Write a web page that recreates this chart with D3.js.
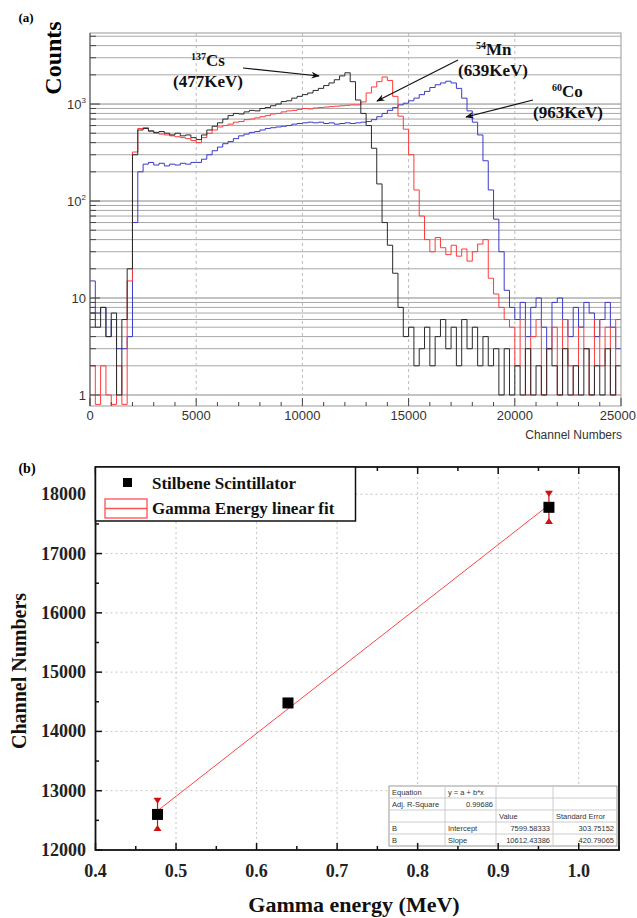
<!DOCTYPE html>
<html>
<head>
<meta charset="utf-8">
<script src="https://cdn.jsdelivr.net/npm/d3@7"></script>
<style>
body{margin:0;background:#fff}
svg{display:block}
</style>
</head>
<body>
<svg id="main_svg" width="637" height="918"></svg>
<script>
// ---- panel (a): spectra, one count per 250 channel bin ----
let bin_width = 250
let cs137 = [7,5,8,4,7,1,6,20,300,540, 560,530,510,520,500,480,500,470,480,450,
    430,480,540,590,640,700,760,800,790,830, 860,850,900,920,960,1000,1060,1080,1150,1200,
    1250,1300,1380,1450,1550,1650,1780,1950,2100,1700, 1100,800,600,350,150,60,35,18,8,4,
    5,2,3,5,2,4,6,3,5,2, 6,3,5,2,4,2,3,1,3,1,
    2,1,3,1,2,1,3,2,1,3, 1,2,1,3,1,2,1,3,1,2]
let mn54 = [2,0.8,2,1,0.8,2,0.8,15,320,560, 570,520,500,490,480,470,460,450,440,420,
    400,450,500,540,580,600,620,650,660,690, 700,720,740,760,790,800,830,850,860,880,
    900,890,910,920,930,940,950,960,970,980, 980,1050,1300,1500,1700,1900,1750,1200,750,550,
    300,130,70,40,30,42,33,28,35,27, 32,24,30,36,40,16,11,8,6,5,
    2,6,1,4,6,1,3,5,1,6, 2,1,5,3,1,6,2,5,1,6]
let co60 = [15,7,8,4,6,3,3,4,60,200, 240,250,235,245,230,240,235,245,240,250,
    250,270,300,330,360,390,410,440,470,490, 510,520,540,560,570,580,590,600,620,630,
    640,650,640,650,630,640,620,630,640,630, 640,650,660,690,740,800,860,920,980,1020,
    1080,1150,1250,1350,1480,1580,1650,1720,1650,1450, 1150,850,650,480,260,130,65,30,12,8,
    6,9,4,8,10,5,3,9,10,6, 4,8,5,9,7,4,6,9,5,3]
let spectra_colors = ["#3a3ac8", "#ff3a3a", "#2a2a2a"]
let count_ticks = [1, 10, 100, 1000]
let count_labels = ["1", "10", "10|2", "10|3"]
let channel_ticks = [0, 5000, 10000, 15000, 20000, 25000]

// ---- panel (b): compton edge vs channel ----
let energy = [0.477, 0.639, 0.963]
let channel = [12600, 14480, 17780]
let channel_err = [280, 80, 280]
let fit_intercept = 7599.58333
let fit_slope = 10612.43386
let energy_ticks = [0.4, 0.5, 0.6, 0.7, 0.8, 0.9, 1.0]
let channel_num_ticks = [12000, 13000, 14000, 15000, 16000, 17000, 18000]
let fit_table = [
    ["Equation", "y = a + b*x", "", ""],
    ["Adj. R-Square", "0.99686", "", ""],
    ["", "", "Value", "Standard Error"],
    ["B", "Intercept", "7599.58333", "303.75152"],
    ["B", "Slope", "10612.43386", "420.79065"]
]

let serif = "'Liberation Serif','Times New Roman',serif"
let sans = "'Liberation Sans',Arial,sans-serif"
let svg = d3.select("#main_svg")

svg.append("defs").append("marker")
    .attr("id", "arrow")
    .attr("viewBox", "0 0 10 10")
    .attr("refX", 9).attr("refY", 5)
    .attr("markerWidth", 7).attr("markerHeight", 7)
    .attr("orient", "auto")
    .append("path")
    .attr("d", "M0,1 L10,5 L0,9 L3,5 Z")
    .attr("fill", "#111")

// ================= panel (a) =================
let x1 = d3.scaleLinear().domain([0, 25000]).range([90, 621])
let y1 = d3.scaleLog().domain([0.77, 5400]).range([406, 33])

svg.append("clipPath").attr("id", "clip_a")
    .append("rect").attr("x", 90).attr("y", 33).attr("width", 531).attr("height", 373)

// log gridlines, every minor value
let log_grid = []
for (let d = 1; d <= 1000; d *= 10) {
    for (let k = 1; k <= 9; k++) {
        if (d * k < 5400) log_grid.push(d * k)
    }
}
svg.append("g").selectAll("line").data(log_grid).join("line")
    .attr("x1", 90).attr("x2", 621)
    .attr("y1", d => y1(d)).attr("y2", d => y1(d))
    .attr("stroke", d => count_ticks.includes(d) ? "#888" : "#a8a8a8")
    .attr("stroke-width", 1)

svg.append("g").selectAll("line").data(channel_ticks.slice(1, -1)).join("line")
    .attr("x1", d => x1(d)).attr("x2", d => x1(d))
    .attr("y1", 33).attr("y2", 406)
    .attr("stroke", "#bbb").attr("stroke-dasharray", "3,3")

function step_points(vals) {
    let pts = vals.map((v, i) => [i * bin_width, v])
    pts.push([vals.length * bin_width, vals[vals.length - 1]])
    return pts
}
let step_line = d3.line()
    .x(d => x1(d[0]))
    .y(d => y1(Math.max(d[1], 0.77)))
    .curve(d3.curveStepAfter)

let spectra = [co60, mn54, cs137]
svg.append("g").attr("clip-path", "url(#clip_a)")
    .selectAll("path").data(spectra).join("path")
    .attr("d", d => step_line(step_points(d)))
    .attr("fill", "none")
    .attr("stroke", (d, i) => spectra_colors[i])
    .attr("stroke-width", 1)

// frame
svg.append("rect").attr("x", 90).attr("y", 33).attr("width", 531).attr("height", 373)
    .attr("fill", "none").attr("stroke", "#999")
svg.append("line").attr("x1", 90).attr("x2", 90).attr("y1", 33).attr("y2", 406)
    .attr("stroke", "#555")

// y ticks (inward)
svg.append("g").selectAll("line").data(log_grid).join("line")
    .attr("x1", 90).attr("x2", d => count_ticks.includes(d) ? 100 : 96)
    .attr("y1", d => y1(d)).attr("y2", d => y1(d))
    .attr("stroke", "#444")

let ylab = svg.append("g").selectAll("text").data(count_ticks).join("text")
    .attr("x", 86).attr("y", d => y1(d) + 5)
    .attr("text-anchor", "end")
    .attr("font-family", sans).attr("font-size", 13).attr("fill", "#333")
ylab.each(function (d, i) {
    let parts = count_labels[i].split("|")
    let t = d3.select(this)
    t.append("tspan").text(parts[0])
    if (parts[1]) t.append("tspan").attr("font-size", 8).attr("dy", -6).text(parts[1])
})

// x ticks (inward) every 1000
svg.append("g").selectAll("line").data(d3.range(0, 25001, 1000)).join("line")
    .attr("x1", d => x1(d)).attr("x2", d => x1(d))
    .attr("y1", 406).attr("y2", d => d % 5000 == 0 ? 398 : 402)
    .attr("stroke", "#444")
svg.append("g").selectAll("text").data(channel_ticks).join("text")
    .attr("x", d => d == 25000 ? 636 : x1(d)).attr("y", 420)
    .attr("text-anchor", d => d == 25000 ? "end" : "middle")
    .attr("font-family", sans).attr("font-size", 13).attr("fill", "#333")
    .text(d => d)
svg.append("text").attr("x", 622).attr("y", 439).attr("text-anchor", "end")
    .attr("font-family", sans).attr("font-size", 12).attr("fill", "#333")
    .text("Channel Numbers")

svg.append("text").attr("transform", "translate(61,58) rotate(-90)")
    .attr("text-anchor", "middle")
    .attr("font-family", serif).attr("font-size", 24).attr("font-weight", "bold")
    .text("Counts")
svg.append("text").attr("x", 26).attr("y", 22).attr("text-anchor", "middle")
    .attr("font-family", serif).attr("font-size", 13).attr("font-weight", "bold")
    .text("(a)")

// isotope labels and arrows
let isotopes = [
    {mass: "137", name: "Cs", edge: "(477KeV)", tx: 191, ty: 66, ex: 173, ey: 87, from: [243, 68], to: [319, 76]},
    {mass: "54", name: "Mn", edge: "(639KeV)", tx: 476, ty: 55, ex: 458, ey: 76, from: [458, 60], to: [377, 101]},
    {mass: "60", name: "Co", edge: "(963KeV)", tx: 552, ty: 97, ex: 533, ey: 118, from: [533, 100], to: [466, 117]}
]
isotopes.forEach(function (iso) {
    let t = svg.append("text").attr("x", iso.tx).attr("y", iso.ty)
        .attr("font-family", serif).attr("font-weight", "bold").attr("fill", "#111")
    t.append("tspan").attr("font-size", 10).attr("dy", -6).text(iso.mass)
    t.append("tspan").attr("font-size", 17).attr("dy", 6).text(iso.name)
    svg.append("text").attr("x", iso.ex).attr("y", iso.ey)
        .attr("font-family", serif).attr("font-weight", "bold").attr("font-size", 17).attr("fill", "#111")
        .text(iso.edge)
    svg.append("line")
        .attr("x1", iso.from[0]).attr("y1", iso.from[1])
        .attr("x2", iso.to[0]).attr("y2", iso.to[1])
        .attr("stroke", "#111").attr("stroke-width", 1.2)
        .attr("marker-end", "url(#arrow)")
})

// ================= panel (b) =================
let x2 = d3.scaleLinear().domain([0.4, 1.05]).range([95.5, 619])
let y2 = d3.scaleLinear().domain([12000, 18460]).range([850, 467])

svg.append("g").selectAll("line").data(energy_ticks.slice(1)).join("line")
    .attr("x1", d => x2(d)).attr("x2", d => x2(d))
    .attr("y1", 467).attr("y2", 850)
    .attr("stroke", "#c4c4c4").attr("stroke-dasharray", "2,3")
svg.append("g").selectAll("line").data(channel_num_ticks.slice(1)).join("line")
    .attr("x1", 95.5).attr("x2", 619)
    .attr("y1", d => y2(d)).attr("y2", d => y2(d))
    .attr("stroke", "#c4c4c4").attr("stroke-dasharray", "2,3")

// fit line
svg.append("line")
    .attr("x1", x2(energy[0])).attr("y1", y2(fit_intercept + fit_slope * energy[0]))
    .attr("x2", x2(energy[2])).attr("y2", y2(fit_intercept + fit_slope * energy[2]))
    .attr("stroke", "#ff4545").attr("stroke-width", 1)

// error bars with triangle caps
let pts = energy.map((e, i) => ({e: e, c: channel[i], err: channel_err[i]}))
let eb = svg.append("g").selectAll("g").data(pts).join("g")
eb.append("line")
    .attr("x1", d => x2(d.e)).attr("x2", d => x2(d.e))
    .attr("y1", d => y2(d.c + d.err)).attr("y2", d => y2(d.c - d.err))
    .attr("stroke", "#d01010").attr("stroke-width", 1.2)
eb.append("path")
    .attr("d", function (d) {
        let x = x2(d.e), t = y2(d.c + d.err), b = y2(d.c - d.err)
        return "M" + (x - 4) + "," + t + "L" + (x + 4) + "," + t + "L" + x + "," + (t + 6) + "Z" +
            "M" + (x - 4) + "," + b + "L" + (x + 4) + "," + b + "L" + x + "," + (b - 6) + "Z"
    })
    .attr("fill", "#d01010")
svg.append("g").selectAll("rect").data(pts).join("rect")
    .attr("x", d => x2(d.e) - 5.5).attr("y", d => y2(d.c) - 5.5)
    .attr("width", 11).attr("height", 11)
    .attr("fill", "#000")

// stats table
let col_x = [389, 445, 496, 553, 617]
let row_y0 = 786, row_h = 12
let table = svg.append("g")
table.append("rect").attr("x", col_x[0]).attr("y", row_y0)
    .attr("width", col_x[4] - col_x[0]).attr("height", row_h * fit_table.length)
    .attr("fill", "#fff").attr("stroke", "#999")
for (let r = 1; r < fit_table.length; r++) {
    table.append("line").attr("x1", col_x[0]).attr("x2", col_x[4])
        .attr("y1", row_y0 + r * row_h).attr("y2", row_y0 + r * row_h)
        .attr("stroke", "#ccc")
}
for (let c = 1; c < 4; c++) {
    table.append("line").attr("x1", col_x[c]).attr("x2", col_x[c])
        .attr("y1", row_y0).attr("y2", row_y0 + row_h * fit_table.length)
        .attr("stroke", "#ccc")
}
fit_table.forEach(function (row, r) {
    row.forEach(function (cell, c) {
        let numeric = /^[0-9.]+$/.test(cell)
        table.append("text")
            .attr("x", numeric ? col_x[c + 1] - 3 : col_x[c] + 3)
            .attr("y", row_y0 + r * row_h + 9)
            .attr("text-anchor", numeric ? "end" : "start")
            .attr("font-family", sans).attr("font-size", 7.5).attr("fill", "#333")
            .text(cell)
    })
})

// frame and ticks
svg.append("rect").attr("x", 95.5).attr("y", 467).attr("width", 523.5).attr("height", 383)
    .attr("fill", "none").attr("stroke", "#111").attr("stroke-width", 1.8)

let minor_e = d3.range(0.45, 1.05, 0.1)
svg.append("g").selectAll("line").data(energy_ticks.concat(minor_e)).join("line")
    .attr("x1", d => x2(d)).attr("x2", d => x2(d))
    .attr("y1", 850).attr("y2", (d, i) => i < energy_ticks.length ? 843 : 846)
    .attr("stroke", "#111").attr("stroke-width", 1.5)
svg.append("g").selectAll("line").data(energy_ticks.concat(minor_e)).join("line")
    .attr("x1", d => x2(d)).attr("x2", d => x2(d))
    .attr("y1", 467).attr("y2", (d, i) => i < energy_ticks.length ? 474 : 471)
    .attr("stroke", "#111").attr("stroke-width", 1.5)
let minor_c = d3.range(12500, 18460, 1000)
svg.append("g").selectAll("line").data(channel_num_ticks.concat(minor_c)).join("line")
    .attr("x1", 95.5).attr("x2", (d, i) => i < channel_num_ticks.length ? 102 : 99)
    .attr("y1", d => y2(d)).attr("y2", d => y2(d))
    .attr("stroke", "#111").attr("stroke-width", 1.5)

svg.append("g").selectAll("text").data(energy_ticks).join("text")
    .attr("x", d => x2(d)).attr("y", 877)
    .attr("text-anchor", "middle")
    .attr("font-family", serif).attr("font-size", 18).attr("font-weight", "bold").attr("fill", "#222")
    .text(d => d.toFixed(1))
svg.append("g").selectAll("text").data(channel_num_ticks).join("text")
    .attr("x", 86).attr("y", d => y2(d) + 6)
    .attr("text-anchor", "end")
    .attr("font-family", serif).attr("font-size", 18).attr("font-weight", "bold").attr("fill", "#222")
    .text(d => d)

svg.append("text").attr("x", 354).attr("y", 912).attr("text-anchor", "middle")
    .attr("font-family", serif).attr("font-size", 22).attr("font-weight", "bold").attr("fill", "#111")
    .text("Gamma energy (MeV)")
svg.append("text").attr("transform", "translate(26,671) rotate(-90)")
    .attr("text-anchor", "middle")
    .attr("font-family", serif).attr("font-size", 20).attr("font-weight", "bold").attr("fill", "#111")
    .text("Channel Numbers")
svg.append("text").attr("x", 27).attr("y", 473).attr("text-anchor", "middle")
    .attr("font-family", serif).attr("font-size", 14).attr("font-weight", "bold")
    .text("(b)")

// legend
let legend = svg.append("g")
legend.append("rect").attr("x", 95.5).attr("y", 467).attr("width", 260).attr("height", 54)
    .attr("fill", "#fff").attr("stroke", "#111").attr("stroke-width", 1.5)
legend.append("rect").attr("x", 123).attr("y", 478).attr("width", 9).attr("height", 9).attr("fill", "#000")
legend.append("rect").attr("x", 105).attr("y", 499).attr("width", 42).attr("height", 19)
    .attr("fill", "none").attr("stroke", "#ff5050").attr("stroke-width", 1.3)
legend.append("line").attr("x1", 105).attr("x2", 147).attr("y1", 508.5).attr("y2", 508.5)
    .attr("stroke", "#ff5050").attr("stroke-width", 1.3)
legend.append("text").attr("x", 152).attr("y", 489)
    .attr("font-family", serif).attr("font-size", 17).attr("font-weight", "bold").attr("fill", "#111")
    .text("Stilbene Scintillator")
legend.append("text").attr("x", 152).attr("y", 514)
    .attr("font-family", serif).attr("font-size", 17).attr("font-weight", "bold").attr("fill", "#111")
    .text("Gamma Energy linear fit")
</script>
</body>
</html>
